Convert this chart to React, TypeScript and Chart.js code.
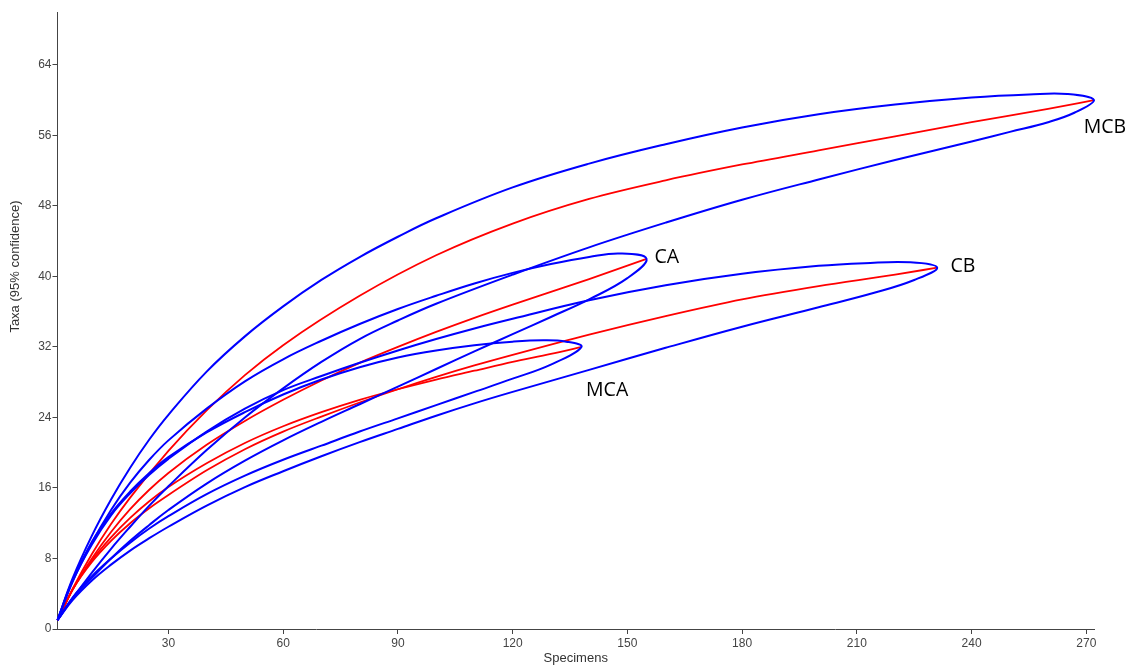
import React, { useEffect, useRef } from "react";
import { Chart, registerables } from "chart.js";

Chart.register(...registerables);

// Axis ticks and titles
const xTicks = [30, 60, 90, 120, 150, 180, 210, 240, 270];
const yTicks = [0, 8, 16, 24, 32, 40, 48, 56, 64];
const xTitle = "Specimens";
const yTitle = "Taxa (95% confidence)";

// Rarefaction curves: [specimens, taxa]
const mcbCurve = [[1,1],[5,4.6],[10,8.5],[15,11.9],[20,14.9],[30,20.2],[40,24.8],[50,28.8],[60,32.2],[80,37.8],[100,42.4],[120,46.0],[140,48.8],[160,50.9],[180,52.7],[200,54.3],[220,55.9],[240,57.5],[260,59.0],[272,60]];
const mcbUpper = [[1,1],[5,5.8],[10,10.6],[15,14.7],[20,18.3],[25,21.5],[30,24.3],[40,29.2],[50,33.2],[60,36.6],[70,39.6],[80,42.2],[90,44.5],[100,46.6],[120,50.1],[140,52.8],[160,55.0],[180,56.9],[200,58.4],[220,59.5],[240,60.3],[255,60.65],[265,60.7],[272,60]];
const mcbLower = [[1,1],[5,3.5],[10,6.4],[15,9.1],[20,11.6],[25,14.0],[30,16.2],[40,20.3],[50,24.0],[60,27.3],[70,30.3],[80,32.9],[90,35.0],[100,36.9],[120,40.2],[140,43.3],[160,46.1],[180,48.7],[200,51.0],[220,53.2],[240,55.3],[250,56.4],[260,57.5],[267,58.6],[272,60]];

const caCurve = [[1,1],[5,4.5],[10,8.0],[15,11.0],[20,13.6],[25,15.8],[30,17.7],[40,20.9],[50,23.6],[60,26.0],[70,28.2],[80,30.2],[90,32.0],[100,33.7],[110,35.3],[120,36.8],[130,38.25],[140,39.7],[155,42]];
const caUpper = [[1,1],[5,5.4],[10,9.8],[15,13.5],[20,16.6],[25,19.2],[30,21.4],[40,25.0],[50,28.1],[60,30.6],[70,32.7],[80,34.6],[90,36.3],[100,37.8],[110,39.2],[120,40.4],[130,41.4],[140,42.2],[148,42.6],[155,42]];
const caLower = [[1,1],[5,3.5],[10,5.8],[15,8.0],[20,10.0],[25,11.8],[30,13.5],[40,16.5],[50,19.1],[60,21.4],[70,23.5],[80,25.5],[90,27.5],[100,29.5],[110,31.5],[120,33.45],[130,35.4],[140,37.4],[150,39.8],[155,42]];

const cbCurve = [[1,1],[5,4.5],[10,7.6],[15,10.0],[20,12.0],[25,13.7],[30,15.2],[40,18.0],[50,20.4],[60,22.4],[70,24.1],[80,25.7],[90,27.2],[100,28.6],[110,29.9],[120,31.1],[140,33.4],[160,35.5],[180,37.4],[200,38.9],[220,40.2],[231,41]];
const cbUpper = [[1,1],[5,5.5],[10,9.6],[15,12.9],[20,15.4],[25,17.5],[30,19.3],[40,22.4],[50,25.0],[60,27.1],[70,28.7],[80,30.2],[90,31.6],[100,32.9],[110,34.1],[120,35.2],[140,37.3],[160,39.0],[180,40.3],[200,41.2],[212,41.5],[224,41.6],[231,41]];
const cbLower = [[1,1],[5,3.3],[10,5.5],[15,7.3],[20,8.9],[25,10.3],[30,11.6],[40,14.0],[50,16.1],[60,17.9],[70,19.6],[80,21.2],[90,22.7],[100,24.2],[110,25.6],[120,26.9],[140,29.4],[160,31.9],[180,34.3],[200,36.5],[215,38.2],[225,39.6],[231,41]];

const mcaCurve = [[1,1],[5,4.5],[10,7.8],[15,10.4],[20,12.6],[25,14.5],[30,16.1],[40,18.8],[50,21.1],[60,23.0],[70,24.6],[80,26.0],[90,27.2],[100,28.3],[110,29.3],[120,30.3],[130,31.2],[138,32]];
const mcaUpper = [[1,1],[5,5.6],[10,9.9],[15,13.1],[20,15.6],[25,17.7],[30,19.5],[40,22.3],[50,24.6],[60,26.6],[70,28.3],[80,29.7],[90,30.8],[100,31.6],[110,32.2],[120,32.6],[128,32.75],[134,32.6],[138,32]];
const mcaLower = [[1,1],[5,3.6],[10,6.0],[15,8.0],[20,9.8],[25,11.4],[30,12.8],[40,15.3],[50,17.4],[60,19.2],[70,20.8],[80,22.4],[90,23.9],[100,25.4],[110,26.9],[120,28.4],[130,30.0],[138,32]];

// Group labels placed near curve ends (data coordinates)
const groupNames = ["MCB", "CA", "CB", "MCA"];
const groupLabelX = [269.3, 157.1, 234.5, 139.2];
const groupLabelY = [56.9, 42.2, 41.1, 27.1];

const toPts = (arr: number[][]) => arr.map(([x, y]) => ({ x, y }));
const loop = (upper: number[][], lower: number[][]) =>
  toPts([...upper, ...lower.slice(0, -1).reverse()]);

const BLUE = "#0000ff";
const RED = "#ff0000";

export default function App() {
  const ref = useRef<HTMLCanvasElement | null>(null);

  useEffect(() => {
    if (!ref.current) return;
    const groups = [
      [mcbUpper, mcbLower, mcbCurve],
      [caUpper, caLower, caCurve],
      [cbUpper, cbLower, cbCurve],
      [mcaUpper, mcaLower, mcaCurve],
    ];
    const datasets: any[] = [];
    groups.forEach((g, i) => {
      datasets.push({
        label: groupNames[i] + " 95%",
        data: loop(g[0], g[1]),
        borderColor: BLUE,
        borderWidth: 2,
        pointRadius: 0,
        tension: 0.4,
        fill: false,
        clip: false,
      });
    });
    groups.forEach((g, i) => {
      datasets.push({
        label: groupNames[i],
        data: toPts(g[2]),
        borderColor: RED,
        borderWidth: 1.8,
        pointRadius: 0,
        cubicInterpolationMode: "monotone",
        fill: false,
        clip: false,
      });
    });

    const textPlugin = {
      id: "texts",
      afterDraw(chart: any) {
        const { ctx, chartArea } = chart;
        const xs = chart.scales.x;
        const ys = chart.scales.y;
        ctx.save();
        ctx.fillStyle = "#000";
        ctx.font = '19.5px "Open Sans"';
        ctx.textBaseline = "middle";
        ctx.textAlign = "left";
        groupNames.forEach((t, i) => {
          ctx.fillText(t, xs.getPixelForValue(groupLabelX[i]), ys.getPixelForValue(groupLabelY[i]));
        });
        ctx.fillStyle = "#333";
        ctx.font = '13px "Liberation Sans"';
        ctx.textAlign = "center";
        ctx.fillText(xTitle, (chartArea.left + chartArea.right) / 2, 658);
        ctx.translate(15, 266.5);
        ctx.rotate(-Math.PI / 2);
        ctx.fillText(yTitle, 0, 0);
        ctx.restore();
      },
    };

    const axisCommon = {
      grid: { display: true, drawOnChartArea: false, drawTicks: true, tickLength: 5, color: "#444" },
      border: { display: true, color: "#444", width: 1 },
    };

    const chart = new Chart(ref.current, {
      type: "line",
      data: { datasets },
      options: {
        animation: false,
        responsive: false,
        devicePixelRatio: 1,
        layout: { padding: { top: 12, right: 40, left: 0, bottom: 0 } },
        plugins: { legend: { display: false }, tooltip: { enabled: false } },
        scales: {
          x: {
            type: "linear",
            min: 1,
            max: 272,
            ...axisCommon,
            afterFit(s: any) { s.height = 36; },
            afterBuildTicks(s: any) { s.ticks = xTicks.map((v) => ({ value: v })); },
            ticks: { font: { family: "Liberation Sans", size: 12 }, color: "#444", padding: 2, maxRotation: 0, autoSkip: false },
          },
          y: {
            type: "linear",
            min: 0,
            max: 70,
            ...axisCommon,
            afterFit(s: any) { s.width = 57.5; },
            afterBuildTicks(s: any) { s.ticks = yTicks.map((v) => ({ value: v })); },
            ticks: { font: { family: "Liberation Sans", size: 12 }, color: "#444", padding: 1, autoSkip: false },
          },
        },
      } as any,
      plugins: [textPlugin],
    });
    return () => chart.destroy();
  }, []);

  return (
    <div style={{ position: "fixed", left: 0, top: 0, width: 1134, height: 665, background: "#fff" }}>
      <canvas ref={ref} width={1134} height={665} style={{ display: "block", width: 1134, height: 665 }} />
    </div>
  );
}
